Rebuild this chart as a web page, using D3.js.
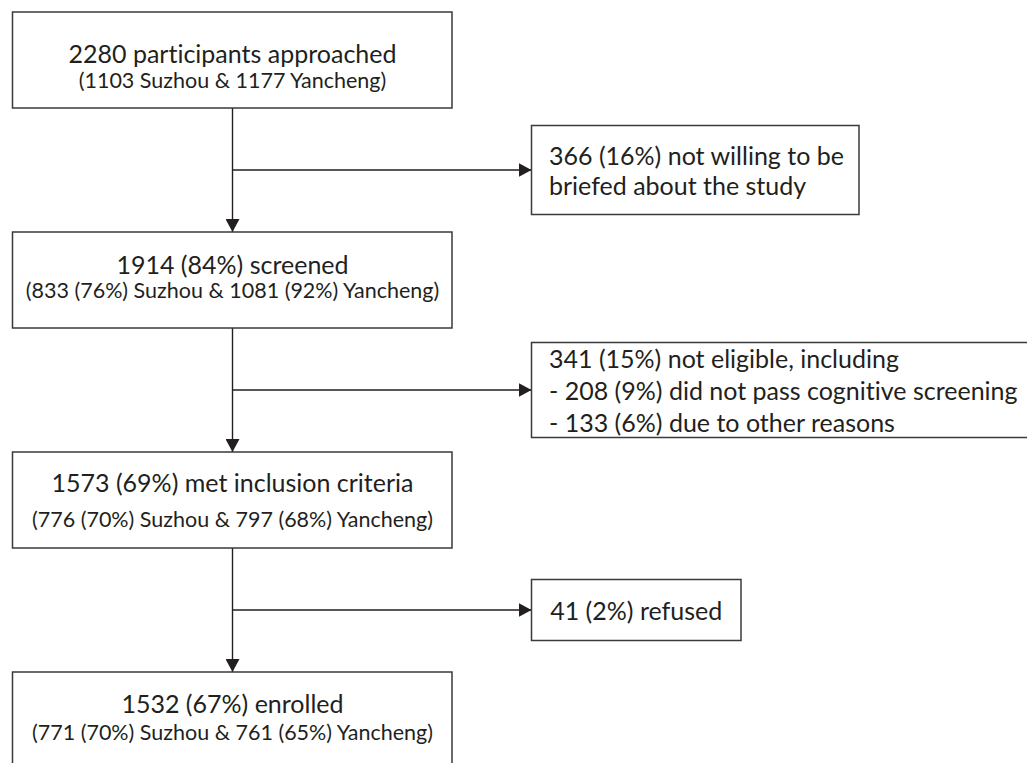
<!DOCTYPE html>
<meta charset="utf-8">
<script src="https://cdn.jsdelivr.net/npm/d3@7"></script>
<style>
  body { margin: 0; background: #fff; }
  svg text { font-family: Lato, "Open Sans", sans-serif; fill: #231f20; font-variant-ligatures: none; }
</style>
<div id="flow"></div>
<script>

// main flow steps (two lines each)
var stepTitles = [
  "2280 participants approached",
  "1914 (84%) screened",
  "1573 (69%) met inclusion criteria",
  "1532 (67%) enrolled"
];
var stepDetails = [
  "(1103 Suzhou & 1177 Yancheng)",
  "(833 (76%) Suzhou & 1081 (92%) Yancheng)",
  "(776 (70%) Suzhou & 797 (68%) Yancheng)",
  "(771 (70%) Suzhou & 761 (65%) Yancheng)"
];

// exclusions branching off after each step
var exclusions = [
  ["366 (16%) not willing to be", "briefed about the study"],
  ["341 (15%) not eligible, including",
   "- 208 (9%) did not pass cognitive screening",
   "- 133 (6%) due to other reasons"],
  ["41 (2%) refused"]
];

var width = 1027, height = 763;

var svg = d3.select("#flow")
  .append("svg")
    .attr("width", width)
    .attr("height", height);

// step index -> top of box
var y = d3.scaleLinear()
  .domain([0, 3])
  .range([12, 672]);

var boxL = 12.5, boxR = 452, boxH = 96;
var cx = 232.5;
var sideL = 531.5;
var sideR = [859, 1030, 741];
var sideH = [89, 95, 61];
var lineOffsets = [[41, 68], [32, 58], [30, 67], [31, 60]];

var ink = "#231f20";

svg.append("defs").append("marker")
    .attr("id", "arrow")
    .attr("markerUnits", "userSpaceOnUse")
    .attr("viewBox", "0 -7 13 14")
    .attr("refX", 13)
    .attr("refY", 0)
    .attr("markerWidth", 13)
    .attr("markerHeight", 14)
    .attr("orient", "auto")
  .append("path")
    .attr("d", "M0,-7L13,0L0,7Z")
    .attr("fill", ink);

// vertical connectors
svg.append("g")
  .selectAll("line")
  .data(d3.range(3))
  .enter()
  .append("line")
    .attr("x1", cx).attr("x2", cx)
    .attr("y1", function(i) { return y(i) + boxH; })
    .attr("y2", function(i) { return y(i + 1); })
    .attr("stroke", ink)
    .attr("stroke-width", 1.4)
    .attr("marker-end", "url(#arrow)");

// branch y for each exclusion
var branchY = function(i) { return y(i) + boxH + (y(i + 1) - y(i) - boxH) / 2; };

svg.append("g")
  .selectAll("line")
  .data(exclusions)
  .enter()
  .append("line")
    .attr("x1", cx)
    .attr("x2", sideL)
    .attr("y1", function(d, i) { return branchY(i); })
    .attr("y2", function(d, i) { return branchY(i); })
    .attr("stroke", ink)
    .attr("stroke-width", 1.4)
    .attr("marker-end", "url(#arrow)");

// main boxes
var steps = svg.append("g")
  .selectAll("g")
  .data(stepTitles)
  .enter()
  .append("g");

steps.append("rect")
    .attr("x", boxL)
    .attr("y", function(d, i) { return y(i); })
    .attr("width", boxR - boxL)
    .attr("height", function(d, i) { return i == 3 ? boxH + 20 : boxH; })
    .attr("fill", "#fff")
    .attr("stroke", "#3a3a3a")
    .attr("stroke-width", 1.5);

steps.append("text")
    .attr("x", cx)
    .attr("y", function(d, i) { return y(i) + lineOffsets[i][0]; })
    .attr("text-anchor", "middle")
    .attr("dominant-baseline", "central")
    .style("font-size", "25px")
    .text(function(d) { return d; });

steps.append("text")
    .attr("x", cx)
    .attr("y", function(d, i) { return y(i) + lineOffsets[i][1]; })
    .attr("text-anchor", "middle")
    .attr("dominant-baseline", "central")
    .style("font-size", "21.5px")
    .text(function(d, i) { return stepDetails[i]; });

// side boxes
var side = svg.append("g")
  .selectAll("g")
  .data(exclusions)
  .enter()
  .append("g");

side.append("rect")
    .attr("x", sideL)
    .attr("y", function(d, i) { return branchY(i) - sideH[i] / 2; })
    .attr("width", function(d, i) { return sideR[i] - sideL; })
    .attr("height", function(d, i) { return sideH[i]; })
    .attr("fill", "#fff")
    .attr("stroke", "#3a3a3a")
    .attr("stroke-width", 1.5);

side.each(function(lines, i) {
  var step = lines.length == 3 ? 32 : 30;
  var top = branchY(i) - step * (lines.length - 1) / 2;
  d3.select(this).selectAll("text.l")
    .data(lines)
    .enter()
    .append("text")
      .attr("class", "l")
      .attr("x", lines.length == 1 ? (sideL + sideR[i]) / 2 : 549)
      .attr("y", function(d, j) { return top + j * step; })
      .attr("text-anchor", lines.length == 1 ? "middle" : "start")
      .attr("dominant-baseline", "central")
      .style("font-size", "25px")
      .text(function(d) { return d; });
});

</script>
